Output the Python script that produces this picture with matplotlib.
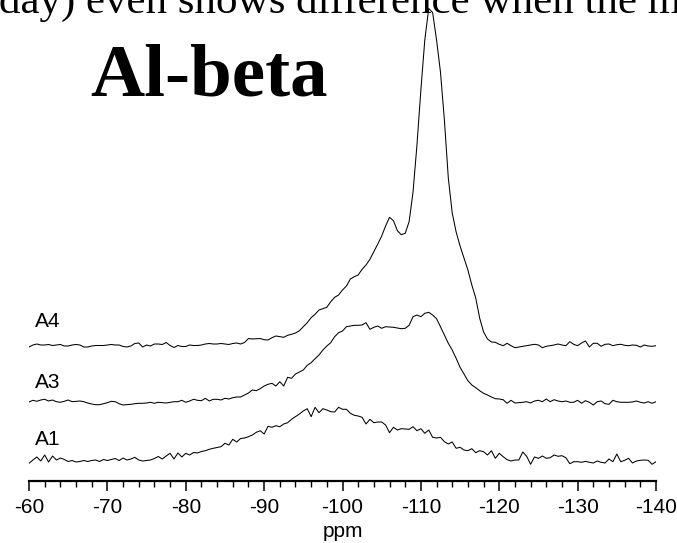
import numpy as np
import matplotlib.pyplot as plt
from matplotlib.ticker import MultipleLocator

plt.rcParams['axes.unicode_minus'] = False

# chemical shift grid (0.5 ppm steps, -60 ... -140)
ppm = np.linspace(-60, -140, 161)

# intensities (arbitrary units, baseline = 0)
a4 = [-1.5, 0.5, 1.5, 0.5, 0.5, 1, 0, 0.5, 1, -0.5,
      -0.5, 0.5, 1, 0.5, -1.5, -1.5, -0.5, 0, 0, 0,
      0.5, 1, 0.5, 0.5, -1, -1.5, -0.5, 2, 2.5, -1.5,
      0.5, -0.5, 1.5, 1.5, 1, 3, 0, -2, 0, -1,
      -1, 0.5, 0, 0, 0.5, 1.5, 2, 1.5, 1.5, 2,
      1.5, 1, 2, 2.5, 1.5, 3, 7, 6.5, 6.8, 7,
      5.8, 5.5, 7.8, 9.5, 8.8, 8.2, 10.2, 11.2, 12.5, 14.8,
      18.8, 22.8, 27.8, 31.2, 35.5, 36.8, 38.2, 43.8, 48.2, 50.5,
      55.5, 59.5, 66.5, 68.8, 70.5, 76.2, 80.5, 86.2, 93.8, 101.5,
      109.5, 119.5, 128.2, 124.8, 114.8, 110.8, 112.2, 123.8, 153.5, 200.5,
      255.5, 305.5, 337, 333, 305.5, 273.5, 225.5, 167.5, 132.5, 113.5,
      99.5, 87.5, 75.5, 60.5, 47.5, 27.5, 13.5, 6.5, 3.5, 3.2,
      1.2, -0.2, 2.2, -0.2, -2.2, -1.5, -0.8, -0.2, 0.5, 1.2,
      0.5, -2.2, -0.8, -0.2, 0.5, 1.5, 0.5, -0.2, 3.8, 1.2,
      -0.2, 2.5, 4.5, -1.5, 2.2, 2.2, -0.8, 1.2, 1.5, -0.2,
      0.8, 1.2, 0.2, -0.2, 0.5, 0.2, -1.5, 0.5, -0.5, -0.8, -0.2]

a3 = [0, 1.7, 0.7, 2, 2.7, 1, 2, 0.3, -0.3, 0.7,
      2, 0.3, 0.7, 1, 0.3, -1, -2, -2.7, -2.7, -1.7,
      -0.7, 0.7, 0.3, -1.7, -3, -2.7, -2.3, -1.7, -1.3, -1.3,
      -1, -0.3, -1.3, -0.3, -0.7, -1, -0.3, 0.3, 0.3, 1.7,
      -0.3, 1, 2.7, 1.7, 1.3, 3.7, 1, 2.7, 2.7, 2,
      3.7, 3, 4.3, 5, 5, 7, 9, 12, 11.3, 13.3,
      16, 17.7, 18.7, 16, 20.3, 16, 24.7, 23.7, 28, 30,
      32, 36.7, 39.3, 43.3, 47, 52, 56, 59.3, 65.3, 69.3,
      71, 75.3, 76, 76.7, 76.7, 77, 79.3, 72.7, 74.7, 76,
      73.7, 75.3, 75, 74.7, 74, 73.3, 73.7, 76.7, 85.3, 87,
      85.3, 88.7, 89.7, 87, 83.3, 75.3, 67, 58.7, 52, 43.7,
      34.7, 28, 21.3, 17, 14.3, 11.3, 8.7, 7, 5, 3.3,
      3, 2.3, -1.3, 1.7, -1, -0.7, -0.3, 0.3, -1, 1,
      1.7, 0.3, 3, 0.3, 2.3, 1, 0.3, 1, -0.3, -0.3,
      1.7, -1.3, 1.3, -0.3, -3, 0.3, 1, -1.7, -2.3, 1.7,
      0.3, -0.3, -0.3, -0.3, 0, 1, -0.3, -1, 0.3, -1.3, 0.3]

a1 = [-0.3, 3, 6, 2, 8, 1, 7, 3, 5, 3.5,
      1.5, 2.5, 1, 1.5, 2.5, 1.5, 2.5, 3, 1.5, 3.5,
      2.5, 3.5, 4.5, 2.5, 5, 3, 4, 5.7, 3, 2,
      2.5, 3, 4.5, 6.5, 4, 7, 9.7, 4, 10, 6,
      9.7, 8, 10.5, 10, 11.5, 12.3, 13.7, 14.7, 15.5, 16.3,
      19.7, 18, 23.7, 21, 24.5, 25, 26.3, 28, 30.7, 32.3,
      29, 36.7, 35.7, 37.3, 36.3, 39, 40.3, 43.7, 46.3, 49,
      52, 54.3, 46.3, 55.7, 50.3, 54.3, 53, 51.3, 51, 55.7,
      53.7, 53.7, 49.7, 47.7, 47, 45.7, 39, 43.7, 40.3, 41,
      41, 38, 30.3, 35.7, 33, 34.3, 34, 33.7, 36.3, 32.3,
      34.3, 29.7, 33, 25.7, 25, 25.7, 21.3, 19, 21, 14.7,
      15.7, 13, 12.3, 14.3, 10.3, 12.3, 11.3, 8, 12.3, 4.7,
      9.7, 6.3, 3.3, 2, 3, 3, 11, 6.7, -1.3, 6,
      4.7, 7, 4.7, 5.3, 8, 6.7, 7.3, 5.3, -0.7, 1.3,
      1.3, 0.7, 1.7, 0.7, 0, 2, 0.7, 0, 4, 1.3,
      9, 1.3, 2.7, 4.7, 0, 2, 2.7, 3, 2.7, -1.3, 1.3]

names = ["A4", "A3", "A1"]
series = [a4, a3, a1]
offsets = [135.5, 79, 18]      # vertical stacking
label_dy = [18.5, 14, 18]

fig = plt.figure(figsize=(6.77, 5.43), dpi=100)
ax = fig.add_axes([29 / 677, 1 - 481 / 543, 627 / 677, 481 / 543])

for name, vals, off, dy in zip(names, series, offsets, label_dy):
    ax.plot(ppm, np.array(vals) + off, color='black', lw=0.75)
    ax.text(-60.8, off + dy, name, fontsize=15, family='Liberation Sans', va='baseline')

ax.set_xlim(-60, -140)
ax.set_ylim(0, 481)
for s in ['left', 'right', 'top']:
    ax.spines[s].set_visible(False)
ax.spines['bottom'].set_linewidth(1.6)
ax.set_yticks([])
ax.xaxis.set_major_locator(MultipleLocator(10))
ax.xaxis.set_minor_locator(MultipleLocator(2))
ax.tick_params(axis='x', which='major', direction='out', length=7.5, width=1.1, pad=5, labelsize=15)
ax.tick_params(axis='x', which='minor', direction='out', length=4, width=1.0)
for lab in ax.get_xticklabels():
    lab.set_family('Liberation Sans')
ax.set_xlabel('ppm', fontsize=15, family='Liberation Sans', labelpad=3)
ax.patch.set_visible(False)

fig.text(90 / 677, 1 - 95 / 543, 'Al-beta', fontsize=54, fontweight='bold',
         family='Liberation Serif', va='baseline')
fig.text(-0.002, 1 - 13 / 543, 'day) even shows difference when the m', fontsize=31,
         family='Liberation Serif', va='baseline')

fig.savefig('out.png', dpi=100)
